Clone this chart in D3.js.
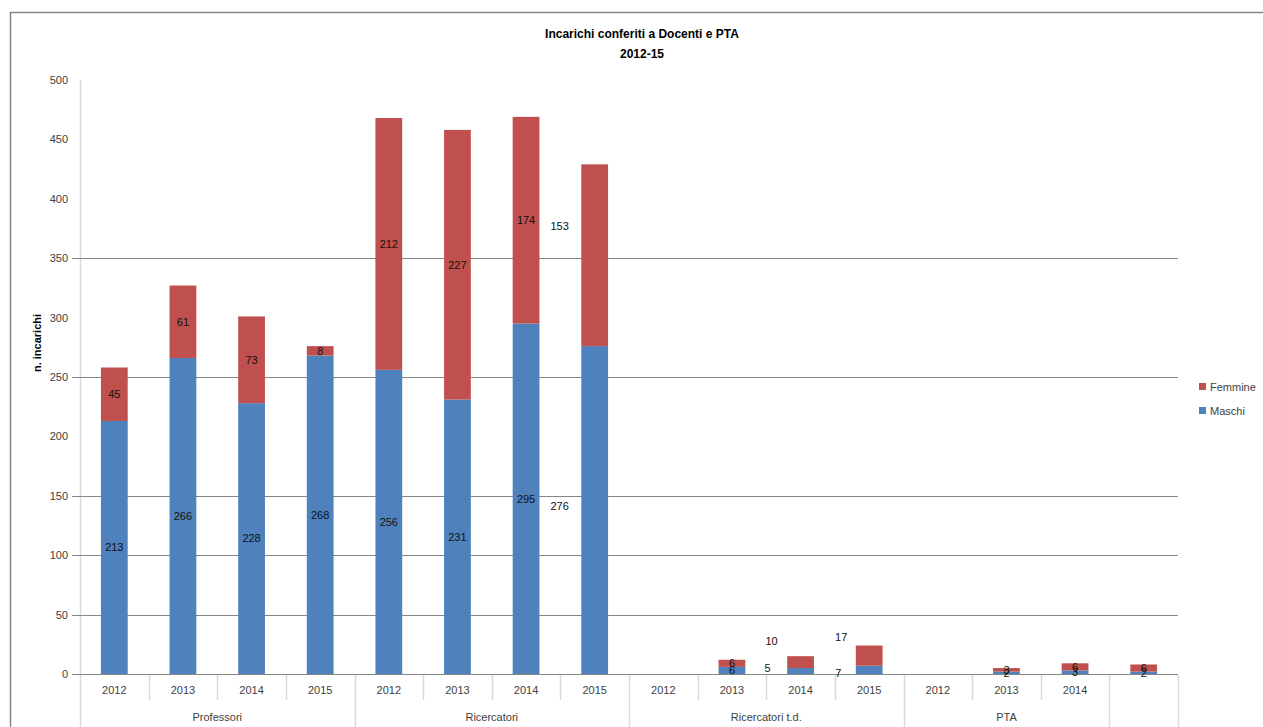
<!DOCTYPE html>
<html>
<head>
<meta charset="utf-8">
<script src="https://cdn.jsdelivr.net/npm/d3@7/dist/d3.min.js"></script>
<style>
  html, body { margin: 0; padding: 0; background: #fff; }
  svg { display: block; font-family: "Liberation Sans", Arial, sans-serif; }
</style>
</head>
<body>
<svg id="chart" width="1263" height="727"></svg>
<script>
// ---------- data ----------
const groups   = ["Professori", "Ricercatori", "Ricercatori t.d.", "PTA", ""];
const years    = [
  ["2012", "2013", "2014", "2015"],
  ["2012", "2013", "2014", "2015"],
  ["2012", "2013", "2014", "2015"],
  ["2012", "2013", "2014"],
  [""]
];
const maschi   = [213, 266, 228, 268,  256, 231, 295, 276,  null, 6, 5, 7,  null, 2, 3,  2];
const femmine  = [45, 61, 73, 8,       212, 227, 174, 153,  null, 6, 10, 17, null, 3, 6,  6];
const yTicks   = [0, 50, 100, 150, 200, 250, 300, 350, 400, 450, 500];
const gridVals = [0, 50, 100, 150, 250, 350];
const seriesNames = ["Femmine", "Maschi"];
const colors   = { Maschi: "#4F81BD", Femmine: "#C0504D" };
// manual label displacements (px) as in the original chart
const labelShift = {
  "7-F": [-35, -29], "7-M": [-35, -4],
  "10-F": [-29, -21], "10-M": [-33, -3],
  "11-F": [-28, -18], "11-M": [-31, 3]
};

// ---------- layout ----------
const svg = d3.select("#chart");
const W = 1263, H = 727;
const plot = { left: 80, right: 1178, top: 80, bottom: 674 };

// frame
svg.append("path")
  .attr("d", `M10.5,${H} L10.5,12.5 L${W},12.5`)
  .attr("fill", "none").attr("stroke", "#868686").attr("stroke-width", 1.5);

// title
const title = svg.append("text").attr("x", 642).attr("text-anchor", "middle")
  .attr("font-weight", "bold").attr("font-size", 12).attr("fill", "#000");
title.append("tspan").attr("x", 642).attr("y", 38).text("Incarichi conferiti a Docenti e PTA");
title.append("tspan").attr("x", 642).attr("y", 58).text("2012-15");

// flatten categories
const cats = [];
groups.forEach((g, gi) => years[gi].forEach(y => cats.push({ group: g, gi, year: y })));
cats.forEach((c, i) => { c.i = i; c.m = maschi[i]; c.f = femmine[i]; });

const x = d3.scaleBand().domain(cats.map(c => c.i)).range([plot.left, plot.right]).padding(0);
const y = d3.scaleLinear().domain([0, 500]).range([plot.bottom, plot.top]);
const bw = x.bandwidth() * 0.39;

// y axis line
svg.append("line").attr("x1", plot.left + 0.5).attr("x2", plot.left + 0.5)
  .attr("y1", plot.top).attr("y2", H).attr("stroke", "#d9d9d9").attr("stroke-width", 1.5);

// gridlines
svg.append("g").selectAll("line").data(gridVals).join("line")
  .attr("x1", plot.left - 8).attr("x2", plot.right)
  .attr("y1", d => Math.round(y(d)) + 0.5).attr("y2", d => Math.round(y(d)) + 0.5)
  .attr("stroke", "#868686").attr("stroke-width", 1);

// y tick labels
const yAxis = d3.axisLeft(y).tickValues(yTicks).tickSize(0).tickPadding(12);
const ya = svg.append("g").attr("transform", `translate(${plot.left},0)`).call(yAxis);
ya.select(".domain").remove();
ya.selectAll("text").attr("font-size", 11).attr("fill", "#404040")
  .attr("font-family", "Liberation Sans, Arial, sans-serif");

// y title
svg.append("text").attr("transform", "translate(41,343) rotate(-90)")
  .attr("text-anchor", "middle").attr("font-weight", "bold").attr("font-size", 11)
  .attr("fill", "#000").text("n. incarichi");

// bars
const stackData = cats.filter(c => c.m != null);
const barG = svg.append("g");
stackData.forEach(c => {
  const cx = x(c.i) + x.bandwidth() / 2;
  barG.append("rect").attr("x", cx - bw / 2).attr("width", bw)
    .attr("y", y(c.m)).attr("height", y(0) - y(c.m)).attr("fill", colors.Maschi);
  barG.append("rect").attr("x", cx - bw / 2).attr("width", bw)
    .attr("y", y(c.m + c.f)).attr("height", y(c.m) - y(c.m + c.f)).attr("fill", colors.Femmine);
});

// data labels
const lblG = svg.append("g").attr("font-size", 11).attr("fill", "#111").attr("text-anchor", "middle");
stackData.forEach(c => {
  const cx = x(c.i) + x.bandwidth() / 2;
  const sm = labelShift[c.i + "-M"] || [0, 0];
  const sf = labelShift[c.i + "-F"] || [0, 0];
  lblG.append("text").attr("x", cx + sm[0]).attr("y", y(c.m / 2) + sm[1]).attr("dy", "0.35em").text(c.m);
  lblG.append("text").attr("x", cx + sf[0]).attr("y", y(c.m + c.f / 2) + sf[1]).attr("dy", "0.35em").text(c.f);
});

// category axis: baseline already drawn by gridline 0
// separators
const sepG = svg.append("g").attr("stroke", "#d9d9d9").attr("stroke-width", 1.5);
let idx = 0;
const groupStarts = [];
groups.forEach((g, gi) => { groupStarts.push(idx); idx += years[gi].length; });
cats.forEach(c => {
  if (c.i === 0) return;
  const isGroupStart = groupStarts.includes(c.i);
  const xx = Math.round(x(c.i)) + 0.5;
  sepG.append("line").attr("x1", xx).attr("x2", xx).attr("y1", plot.bottom + 1)
    .attr("y2", isGroupStart ? H : 700);
});
sepG.append("line").attr("x1", plot.right + 0.5).attr("x2", plot.right + 0.5)
  .attr("y1", plot.bottom + 1).attr("y2", H);

// year labels
svg.append("g").selectAll("text").data(cats).join("text")
  .attr("x", c => x(c.i) + x.bandwidth() / 2).attr("y", 694)
  .attr("text-anchor", "middle").attr("font-size", 11).attr("fill", "#404040")
  .text(c => c.year);

// group labels
svg.append("g").selectAll("text").data(groups.map((g, gi) => ({ g, gi }))).join("text")
  .attr("x", d => {
    const s = groupStarts[d.gi], n = years[d.gi].length;
    return (x(s) + x(s + n - 1) + x.bandwidth()) / 2;
  })
  .attr("y", 721).attr("text-anchor", "middle").attr("font-size", 11).attr("fill", "#404040")
  .text(d => d.g);

// legend
const lg = svg.append("g").attr("transform", "translate(1199,383)");
seriesNames.forEach((s, i) => {
  lg.append("rect").attr("x", 0).attr("y", i * 24).attr("width", 7).attr("height", 7).attr("fill", colors[s]);
  lg.append("text").attr("x", 11).attr("y", i * 24 + 8).attr("font-size", 11).attr("fill", "#404040").text(s);
});
</script>
</body>
</html>
